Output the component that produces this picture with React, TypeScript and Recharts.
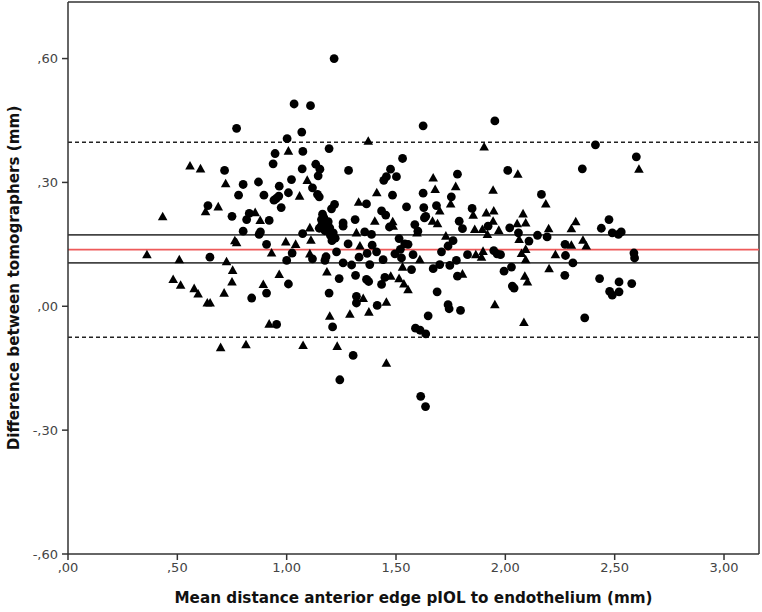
import React from "react";
import {
  ScatterChart,
  Scatter,
  XAxis,
  YAxis,
  ReferenceLine,
} from "recharts";

// Bland-Altman data: mean (x) and difference (y), two groups
const circleMean = [
  1.217, 1.034, 1.109, 0.771, 1.624, 1.069, 1.002, 1.194, 1.074, 0.947, 0.938, 1.53, 0.716, 1.071, 1.133,
  1.152, 1.144, 1.283, 1.475, 1.456, 1.502, 1.444, 0.801, 0.871, 0.966, 1.022, 1.118, 1.008, 0.78, 0.896,
  0.964, 1.141, 1.149, 0.942, 0.952, 1.484, 1.624, 1.365, 0.64, 0.975, 1.219, 1.548, 1.627, 0.75, 0.829,
  0.817, 0.92, 1.164, 1.205, 1.159, 1.187, 1.258, 1.313, 1.434, 1.453, 1.586, 1.63, 0.801, 1.149, 1.197,
  1.213, 1.258, 1.357, 1.388, 0.874, 0.88, 1.073, 0.908, 1.207, 1.281, 1.391, 1.514, 1.54, 1.555, 0.649,
  1.025, 1.118, 1.228, 1.175, 1.18, 1.331, 1.368, 1.411, 1.441, 1.495, 1.525, 1.578, 1.0, 1.258, 1.297,
  1.38, 1.571, 1.315, 1.24, 1.365, 1.375, 1.449, 1.434, 1.008, 0.908, 1.194, 0.84, 1.319, 1.319, 1.414,
  1.647, 0.954, 1.21, 1.589, 1.61, 1.636, 1.304, 1.243, 1.613, 1.635,
  1.17, 1.19, 1.2, 1.16, 1.222, 1.175, 1.6, 1.47, 1.52,
  1.952, 2.412, 2.599, 2.011, 2.352, 1.781, 1.753, 1.685, 1.636, 1.848, 2.165, 1.789, 1.804, 1.921, 2.02,
  2.06, 2.108, 2.147, 2.191, 2.439, 2.474, 2.489, 2.517, 2.53, 2.273, 2.275, 2.309, 2.272, 2.588, 2.591,
  2.431, 2.52, 2.578, 2.477, 2.489, 2.52, 2.363, 1.738, 1.743, 1.795, 1.688, 1.781, 1.67, 1.7, 1.746,
  1.776, 1.708, 1.738, 1.761, 1.827, 1.947, 1.962, 1.978, 1.994, 2.028, 2.032, 2.04,
];
const circleDiff = [
  0.6, 0.49, 0.486, 0.431, 0.437, 0.422, 0.406, 0.382, 0.375, 0.37, 0.345, 0.358, 0.329, 0.333, 0.344,
  0.332, 0.316, 0.329, 0.332, 0.314, 0.314, 0.305, 0.295, 0.301, 0.291, 0.307, 0.287, 0.275, 0.269, 0.269,
  0.267, 0.271, 0.265, 0.257, 0.261, 0.269, 0.274, 0.248, 0.244, 0.239, 0.247, 0.241, 0.239, 0.218, 0.225,
  0.21, 0.208, 0.223, 0.236, 0.21, 0.2, 0.202, 0.21, 0.231, 0.221, 0.198, 0.214, 0.182, 0.189, 0.19,
  0.178, 0.194, 0.18, 0.174, 0.174, 0.18, 0.176, 0.15, 0.159, 0.151, 0.148, 0.164, 0.151, 0.15, 0.119,
  0.129, 0.115, 0.132, 0.111, 0.12, 0.119, 0.128, 0.132, 0.113, 0.127, 0.117, 0.125, 0.111, 0.105, 0.1,
  0.101, 0.089, 0.075, 0.067, 0.065, 0.06, 0.07, 0.053, 0.054, 0.032, 0.032, 0.02, 0.024, 0.008, 0.002,
  -0.023, -0.044, -0.05, -0.053, -0.058, -0.067, -0.119, -0.178, -0.218, -0.243,
  0.215, 0.205, 0.172, 0.196, 0.165, 0.183, 0.182, 0.192, 0.138,
  0.449, 0.391, 0.362, 0.329, 0.333, 0.32, 0.265, 0.244, 0.218, 0.237, 0.271, 0.206, 0.188, 0.194, 0.19,
  0.178, 0.158, 0.172, 0.168, 0.189, 0.21, 0.178, 0.174, 0.18, 0.15, 0.123, 0.105, 0.075, 0.129, 0.117,
  0.067, 0.059, 0.055, 0.036, 0.027, 0.035, -0.028, 0.004, -0.006, -0.01, 0.035, 0.073, 0.091, 0.101, 0.099,
  0.111, 0.132, 0.146, 0.159, 0.125, 0.135, 0.127, 0.125, 0.085, 0.095, 0.049, 0.044,
];
const triangleMean = [
  1.373, 1.008, 0.558, 0.606, 0.721, 1.094, 1.059, 1.412, 1.329, 0.629, 0.687, 0.433, 0.856, 0.879, 1.403,
  1.485, 1.106, 1.319, 1.487, 1.596, 0.763, 0.771, 0.996, 1.041, 1.111, 1.335, 0.361, 0.931, 1.106, 0.509,
  0.725, 1.53, 1.609, 0.753, 1.184, 0.966, 1.476, 1.514, 1.536, 1.555, 0.481, 0.515, 0.75, 0.893, 0.577,
  0.595, 0.714, 0.637, 0.65, 1.35, 1.456, 1.376, 1.289, 1.197, 0.92, 0.698, 0.814, 1.075, 1.231, 1.456,
  1.903, 2.611, 2.057, 1.67, 1.679, 1.773, 1.944, 1.75, 1.7, 1.853, 1.913, 1.947, 2.185, 2.081, 1.667,
  1.69, 1.944, 1.86, 1.895, 1.97, 1.918, 2.054, 2.093, 2.063, 2.198, 2.302, 2.322, 2.355, 2.37, 2.302,
  2.229, 2.2, 1.952, 2.085, 1.804, 1.728, 1.865, 1.891, 1.898, 2.074, 2.093, 2.093, 2.089, 2.101,
];
const triangleDiff = [
  0.4, 0.376, 0.34, 0.333, 0.297, 0.305, 0.267, 0.275, 0.252, 0.229, 0.241, 0.217, 0.227, 0.208, 0.206,
  0.205, 0.19, 0.178, 0.194, 0.178, 0.159, 0.154, 0.156, 0.15, 0.16, 0.146, 0.125, 0.129, 0.127, 0.113,
  0.108, 0.095, 0.113, 0.087, 0.083, 0.077, 0.073, 0.067, 0.054, 0.04, 0.065, 0.051, 0.059, 0.053, 0.043,
  0.03, 0.032, 0.008, 0.008, 0.019, 0.01, -0.014, -0.019, -0.024, -0.043, -0.1, -0.093, -0.095, -0.097, -0.138,
  0.386, 0.332, 0.32, 0.311, 0.283, 0.29, 0.281, 0.248, 0.231, 0.221, 0.226, 0.231, 0.248, 0.224, 0.206,
  0.2, 0.206, 0.186, 0.186, 0.184, 0.174, 0.2, 0.202, 0.162, 0.188, 0.188, 0.205, 0.16, 0.146, 0.148,
  0.125, 0.091, 0.004, -0.039, 0.078, 0.17, 0.125, 0.119, 0.133, 0.128, 0.138, 0.113, 0.073, 0.059,
];

// Reference lines: mean difference, its CI, limits of agreement
const meanDiff = 0.137;
const meanCI = [0.105, 0.173];
const limits = [-0.075, 0.397];

const xTicks = [0, 0.5, 1, 1.5, 2, 2.5, 3];
const yTicks = [-0.6, -0.3, 0, 0.3, 0.6];
const xDomain = [0, 3.16];
const yDomain = [-0.6, 0.737];

const circleData = circleMean.map((x, i) => ({ x, y: circleDiff[i] }));
const triangleData = triangleMean.map((x, i) => ({ x, y: triangleDiff[i] }));

const fmt = (v: number) => v.toFixed(2).replace(".", ",").replace(/^(-?)0,/, "$1,");

const FONT = "'DejaVu Sans', Verdana, sans-serif";

const CircleShape = (p: any) => <circle cx={p.cx} cy={p.cy} r={4.4} fill="#000" />;
const TriShape = (p: any) => {
  const { cx, cy } = p;
  return (
    <polygon
      points={`${cx},${cy - 5} ${cx - 4.8},${cy + 3.6} ${cx + 4.8},${cy + 3.6}`}
      fill="#000"
    />
  );
};

export default function App() {
  return (
    <div style={{ position: "absolute", left: 0, top: 0, background: "#fff" }}>
      <ScatterChart width={762} height={612} margin={{ top: 2, right: 3, left: 0, bottom: 0 }}>
        <XAxis
          type="number"
          dataKey="x"
          domain={xDomain}
          ticks={xTicks}
          tickFormatter={fmt}
          allowDataOverflow
          height={58}
          tickSize={6}
          tickMargin={3}
          stroke="#333"
          strokeWidth={1.5}
          tick={{ fill: "#444", fontSize: 13, fontFamily: FONT }}
          label={{
            value: "Mean distance anterior edge pIOL to endothelium (mm)",
            position: "insideBottom",
            offset: 9,
            style: { fill: "#111", fontSize: 15.2, fontWeight: "bold", fontFamily: FONT },
          }}
        />
        <YAxis
          type="number"
          dataKey="y"
          domain={yDomain}
          ticks={yTicks}
          tickFormatter={fmt}
          allowDataOverflow
          width={68}
          tickSize={6}
          tickMargin={4}
          stroke="#333"
          strokeWidth={1.5}
          tick={{ fill: "#444", fontSize: 13, fontFamily: FONT }}
          label={{
            value: "Difference between tomographers (mm)",
            angle: -90,
            position: "insideLeft",
            offset: 14,
            style: { textAnchor: "middle", fill: "#111", fontSize: 15.2, fontWeight: "bold", fontFamily: FONT },
          }}
        />
        <ReferenceLine y={yDomain[1]} stroke="#333" strokeWidth={1.5} />
        <ReferenceLine x={xDomain[1]} stroke="#333" strokeWidth={1.5} />
        <ReferenceLine y={limits[1]} stroke="#222" strokeWidth={1.5} strokeDasharray="4 3" />
        <ReferenceLine y={limits[0]} stroke="#222" strokeWidth={1.5} strokeDasharray="4 3" />
        <ReferenceLine y={meanCI[1]} stroke="#444" strokeWidth={1.8} />
        <ReferenceLine y={meanCI[0]} stroke="#444" strokeWidth={1.8} />
        <ReferenceLine y={meanDiff} stroke="#ee5a5a" strokeWidth={1.8} />
        <Scatter data={circleData} shape={CircleShape} isAnimationActive={false} />
        <Scatter data={triangleData} shape={TriShape} isAnimationActive={false} />
      </ScatterChart>
    </div>
  );
}
